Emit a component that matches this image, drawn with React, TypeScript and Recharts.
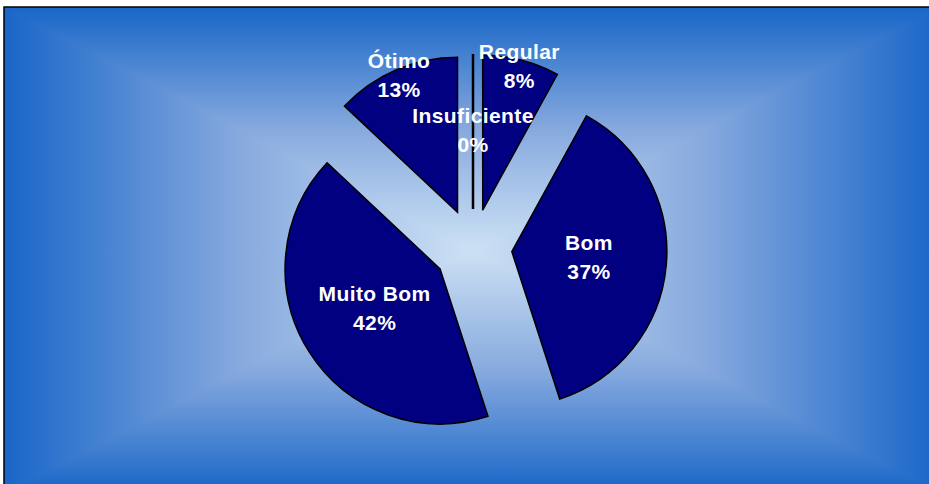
import React from 'react';
import { PieChart, Pie, Cell } from 'recharts';

const categories = ['Insuficiente', 'Regular', 'Bom', 'Muito Bom', 'Ótimo'];
const values = [0, 8, 37, 42, 13];

const data = categories.map((name, i) => ({ name, value: values[i] }));

const W = 929;
const H = 484;
const CX = 473;
const CY = 248;
const R = 155;
const EXPLODE = 39;
const NAVY = '#000080';
const FONT = '"Liberation Sans", Arial, sans-serif';

const total = values.reduce((a, b) => a + b, 0);
const offsets = values.map((v, i) => {
  const before = values.slice(0, i).reduce((a, b) => a + b, 0);
  const mid = 90 - (360 * (before + v / 2)) / total;
  const rad = (mid * Math.PI) / 180;
  return { dx: EXPLODE * Math.cos(rad), dy: -EXPLODE * Math.sin(rad) };
});

const makeLabel = (target: number) => (props: any) => {
  if (props.index !== target) return null;
  const cx = Number(props.cx);
  const cy = Number(props.cy);
  const mid = (Number(props.midAngle) * Math.PI) / 180;
  const outer = Number(props.outerRadius);
  const pct = Number(props.percent);
  const frac = pct > 0 && pct < 0.15 ? 0.95 : 0.5;
  const lx = cx + outer * frac * Math.cos(mid);
  const ly = cy - outer * frac * Math.sin(mid);
  const zero = Number(props.value) === 0;
  return (
    <g key={`lbl-${target}`}>
      {zero && (
        <line
          x1={cx}
          y1={cy}
          x2={cx + outer * Math.cos(mid)}
          y2={cy - outer * Math.sin(mid)}
          stroke="#000"
          strokeWidth={2.5}
        />
      )}
      <text
        x={lx}
        textAnchor="middle"
        fill="#fff"
        fontFamily={FONT}
        fontWeight="bold"
        fontSize={21}
        letterSpacing={0.4}
      >
        <tspan x={lx} y={ly - 9}>{props.name}</tspan>
        <tspan x={lx} y={ly + 20}>{`${Math.round(pct * 100)}%`}</tspan>
      </text>
    </g>
  );
};

function Background() {
  const x0 = 4, y0 = 7, x1 = 940, y1 = 493;
  const mx = 472, my = 250;
  const fy = (my - y0) / (y1 - y0);
  return (
    <svg width={W} height={H} style={{ position: 'absolute', left: 0, top: 0 }}>
      <defs>
        <linearGradient id="gV" gradientUnits="userSpaceOnUse" x1={0} y1={y0} x2={0} y2={y1}>
          <stop offset="0" stopColor="#1866c8" />
          <stop offset={fy * 0.5} stopColor="#86a9de" />
          <stop offset={fy} stopColor="#cde1f5" />
          <stop offset={fy + (1 - fy) * 0.5} stopColor="#86a9de" />
          <stop offset="1" stopColor="#1866c8" />
        </linearGradient>
        <linearGradient id="gL" gradientUnits="userSpaceOnUse" x1={x0} y1={0} x2={mx} y2={0}>
          <stop offset="0" stopColor="#1866c8" />
          <stop offset="0.5" stopColor="#86a9de" />
          <stop offset="1" stopColor="#cde1f5" />
        </linearGradient>
        <linearGradient id="gR" gradientUnits="userSpaceOnUse" x1={x1} y1={0} x2={mx} y2={0}>
          <stop offset="0" stopColor="#1866c8" />
          <stop offset="0.5" stopColor="#86a9de" />
          <stop offset="1" stopColor="#cde1f5" />
        </linearGradient>
      </defs>
      <rect x={0} y={0} width={W} height={H} fill="#fff" />
      <rect x={x0} y={y0} width={x1 - x0} height={y1 - y0} fill="url(#gV)" />
      <polygon points={`${x0},${y0} ${x0},${y1} ${mx},${my}`} fill="url(#gL)" />
      <polygon points={`${x1},${y0} ${x1},${y1} ${mx},${my}`} fill="url(#gR)" />
      <rect x={x0} y={y0} width={x1 - x0} height={y1 - y0} fill="none" stroke="#000" strokeWidth={1.5} />
    </svg>
  );
}

export default function App() {
  return (
    <div style={{ position: 'absolute', left: 0, top: 0, width: W, height: H }}>
      <Background />
      <div style={{ position: 'absolute', left: 0, top: 0 }}>
        <PieChart width={W} height={H} margin={{ top: 0, right: 0, bottom: 0, left: 0 }}>
          {data.map((_, i) => (
            <Pie
              key={i}
              data={data}
              dataKey="value"
              nameKey="name"
              cx={CX + offsets[i].dx}
              cy={CY + offsets[i].dy}
              outerRadius={R}
              innerRadius={0}
              startAngle={90}
              endAngle={-270}
              isAnimationActive={false}
              labelLine={false}
              label={makeLabel(i)}
            >
              {data.map((__, j) => (
                <Cell
                  key={j}
                  fill={j === i ? NAVY : 'transparent'}
                  stroke={j === i ? '#000' : 'none'}
                  strokeWidth={j === i ? 1.5 : 0}
                />
              ))}
            </Pie>
          ))}
        </PieChart>
      </div>
    </div>
  );
}
